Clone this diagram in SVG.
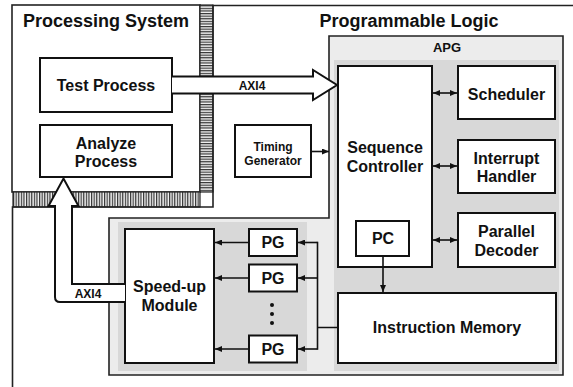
<svg xmlns="http://www.w3.org/2000/svg" width="573" height="387" viewBox="0 0 573 387">
<defs>
<pattern id="hh" patternUnits="userSpaceOnUse" width="4" height="2.6">
<rect width="4" height="2.6" fill="#f4f4f4"/>
<rect y="0" width="4" height="1.2" fill="#333"/>
</pattern>
<pattern id="hv" patternUnits="userSpaceOnUse" width="2.6" height="4">
<rect width="2.6" height="4" fill="#f4f4f4"/>
<rect x="0" width="1.2" height="4" fill="#333"/>
</pattern>
<marker id="ah" markerUnits="userSpaceOnUse" markerWidth="7" markerHeight="6" refX="7" refY="3" orient="auto-start-reverse">
<path d="M0,0 L7,3 L0,6 z" fill="#111"/>
</marker>
</defs>
<style>
.box{fill:#fff;stroke:#111;stroke-width:2}
.t{font-family:"Liberation Sans",Arial,sans-serif;font-weight:bold;fill:#111;text-anchor:middle}
.t16{font-size:16px}
.t12{font-size:12px}
.t18{font-size:18px}
.ln{fill:none;stroke:#111;stroke-width:1.6}
.big{fill:#fff;stroke:#111;stroke-width:2;stroke-linejoin:miter}
</style>
<rect width="573" height="387" fill="#fff"/>

<g id="processing-system">
<rect x="12" y="5" width="188" height="187" fill="#fff" stroke="#222" stroke-width="1.6"/>
<text class="t t18" x="106" y="26.5">Processing System</text>
</g>

<g id="boundary">
<rect x="200" y="5" width="13" height="187" fill="url(#hh)" stroke="#222" stroke-width="1.2"/>
<rect x="13" y="192" width="187" height="15" fill="url(#hv)" stroke="#222" stroke-width="1.2"/>
<path d="M573,5.5 H213 V207 H12.5 V387" fill="none" stroke="#222" stroke-width="1.6"/>
</g>

<g id="programmable-logic">
<text class="t t18" x="409" y="26.5">Programmable Logic</text>
</g>

<g id="apg">
<path d="M329,36 H563 V375 H109 V218 H329 Z" fill="#ececec" stroke="#222" stroke-width="1.6"/>
<rect x="334" y="60" width="225" height="311" fill="#d8d8d8"/>
<rect x="118" y="222" width="189" height="149" fill="#d8d8d8"/>
<text class="t" style="font-size:13px" x="447" y="52">APG</text>
</g>

<g id="test-process">
<rect class="box" x="40" y="58" width="132" height="54"/>
<text class="t t16" x="106" y="91">Test Process</text>
</g>

<g id="analyze-process">
<rect class="box" x="40" y="125" width="132" height="52"/>
<text class="t t16" x="106" y="148.5">Analyze</text>
<text class="t t16" x="106" y="166.5">Process</text>
</g>

<g id="timing-generator">
<rect class="box" x="235" y="125" width="76" height="52"/>
<text class="t t12" x="273" y="151">Timing</text>
<text class="t t12" x="273" y="165">Generator</text>
</g>

<g id="sequence-controller">
<rect class="box" x="338" y="66" width="94" height="201"/>
<text class="t t16" x="385" y="153">Sequence</text>
<text class="t t16" x="385" y="171.5">Controller</text>
</g>

<g id="pc">
<rect class="box" x="356" y="221" width="53" height="35"/>
<text class="t t16" x="383" y="244">PC</text>
</g>

<g id="scheduler">
<rect class="box" x="458" y="66" width="97" height="53"/>
<text class="t t16" x="506.5" y="99.5">Scheduler</text>
</g>

<g id="interrupt-handler">
<rect class="box" x="458" y="140" width="97" height="53"/>
<text class="t t16" x="506.5" y="163.5">Interrupt</text>
<text class="t t16" x="506.5" y="181.5">Handler</text>
</g>

<g id="parallel-decoder">
<rect class="box" x="458" y="213" width="97" height="54"/>
<text class="t t16" x="506.5" y="236.5">Parallel</text>
<text class="t t16" x="506.5" y="255.5">Decoder</text>
</g>

<g id="instruction-memory">
<rect class="box" x="338" y="293" width="218" height="70"/>
<text class="t t16" x="447" y="333">Instruction Memory</text>
</g>

<g id="speed-up-module">
<rect class="box" x="125" y="229" width="89" height="134"/>
<text class="t t16" x="169.5" y="291.5">Speed-up</text>
<text class="t t16" x="169.5" y="310.5">Module</text>
</g>

<g id="pg1">
<rect class="box" x="249" y="229" width="48" height="27"/>
<text class="t t16" x="273" y="248">PG</text>
</g>
<g id="pg2">
<rect class="box" x="249" y="264.5" width="48" height="27"/>
<text class="t t16" x="273" y="283.5">PG</text>
</g>
<g id="pg-dots">
<circle cx="272" cy="305" r="2" fill="#111"/>
<circle cx="272" cy="314" r="2" fill="#111"/>
<circle cx="272" cy="323" r="2" fill="#111"/>
</g>
<g id="pg3">
<rect class="box" x="249" y="335.5" width="48" height="27"/>
<text class="t t16" x="273" y="354.5">PG</text>
</g>

<g id="connectors">
<path class="big" d="M172,76.5 H313 V70 L337,85 L313,100 V93.5 H172"/>
<text class="t t12" x="252" y="89.5">AXI4</text>
<path class="big" d="M125,284 H72 V206 H78.5 L63.5,178.5 L48.5,206 H55 V297 Q55,302 60,302 H125"/>
<text class="t t12" x="88" y="297.5">AXI4</text>

<line class="ln" x1="311" y1="151.5" x2="329" y2="151.5" marker-end="url(#ah)"/>
<line class="ln" x1="433" y1="93" x2="457" y2="93" marker-start="url(#ah)" marker-end="url(#ah)"/>
<line class="ln" x1="433" y1="166" x2="457" y2="166" marker-start="url(#ah)" marker-end="url(#ah)"/>
<line class="ln" x1="433" y1="240" x2="457" y2="240" marker-start="url(#ah)" marker-end="url(#ah)"/>
<line class="ln" x1="383" y1="256" x2="383" y2="292" marker-end="url(#ah)"/>

<line class="ln" x1="249" y1="242.5" x2="215" y2="242.5" marker-end="url(#ah)"/>
<line class="ln" x1="249" y1="278" x2="215" y2="278" marker-end="url(#ah)"/>
<line class="ln" x1="249" y1="349" x2="215" y2="349" marker-end="url(#ah)"/>

<path class="ln" d="M338,327.5 H317.5 M317.5,241.7 V349.8"/>
<line class="ln" x1="317.5" y1="242.5" x2="298" y2="242.5" marker-end="url(#ah)"/>
<line class="ln" x1="317.5" y1="278" x2="298" y2="278" marker-end="url(#ah)"/>
<line class="ln" x1="317.5" y1="349" x2="298" y2="349" marker-end="url(#ah)"/>
</g>
</svg>
